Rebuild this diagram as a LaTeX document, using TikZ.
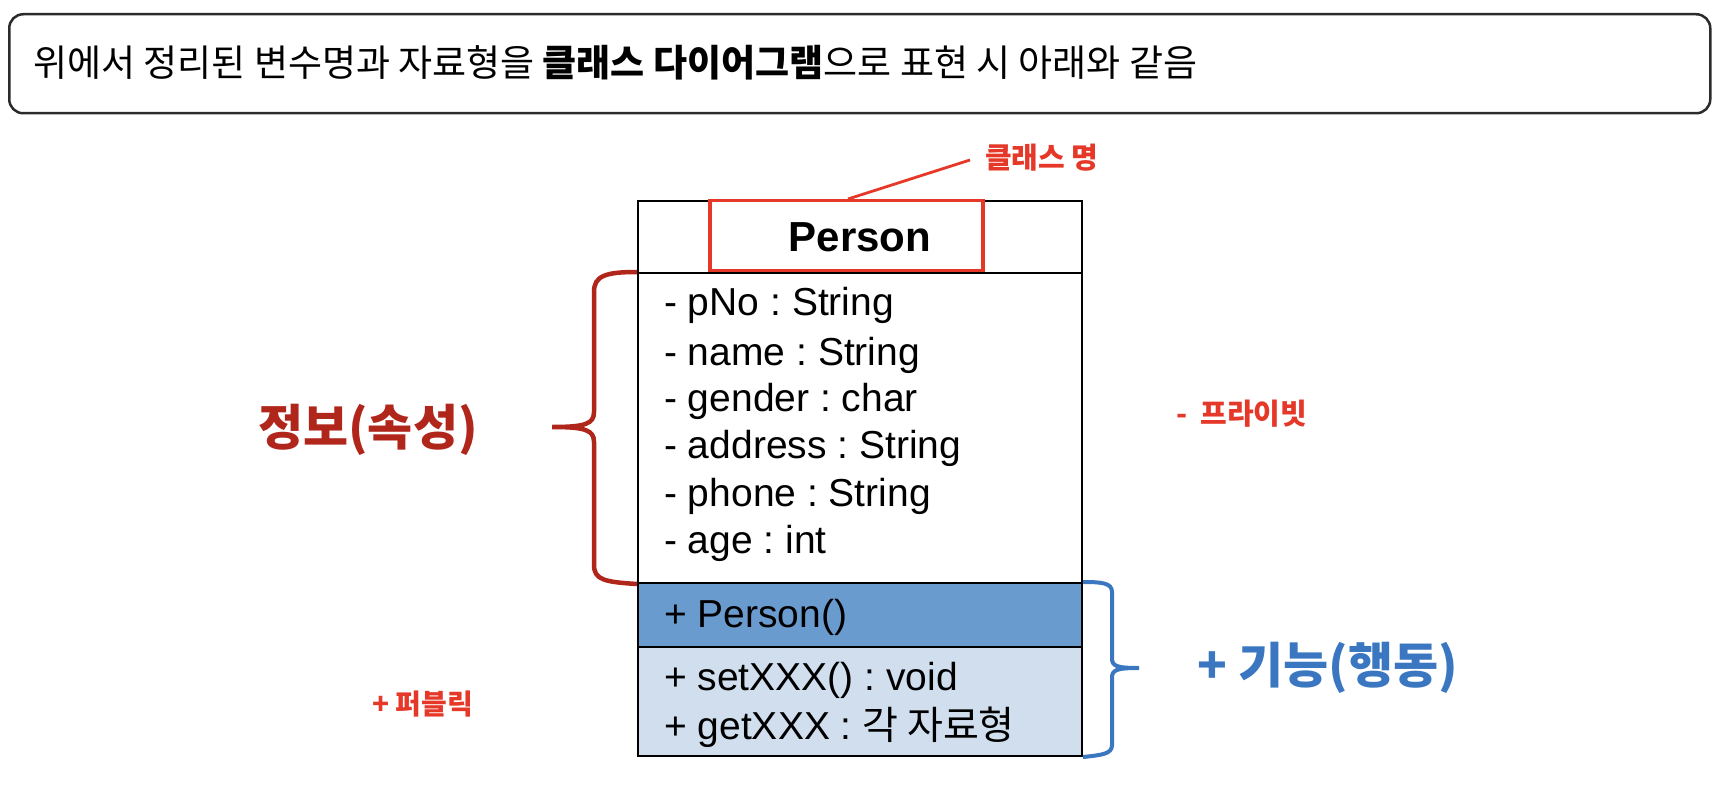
\documentclass[tikz,border=0pt]{standalone}
\usepackage{fontspec}
\setmainfont{Liberation Sans}
\newfontfamily\kr{Noto Sans CJK KR}
\usetikzlibrary{calc}
\frenchspacing
\definecolor{frameC}{HTML}{2B2B2B}
\definecolor{ctorC}{HTML}{6A9BCF}
\definecolor{methC}{HTML}{D0DEEE}
\definecolor{redC}{HTML}{E53828}
\definecolor{darkredC}{HTML}{B0261B}
\definecolor{blueC}{HTML}{3A77C0}
\newcommand\setfs[1]{\fontsize{#1pt}{#1pt}\selectfont}
\begin{document}
\begin{tikzpicture}[x=1pt,y=-1pt,
  comp/.style={draw=black,line width=2pt,inner sep=0pt,anchor=north west,minimum width=444pt},
  member/.style={anchor=base west,inner sep=0pt,font=\frenchspacing\setfs{39}},
  lbl/.style={inner sep=0pt,anchor=west}]
\useasboundingbox (0,0) rectangle (1726,786);
% top box
\node[draw=frameC,line width=2.5pt,rounded corners=14pt,anchor=north west,minimum width=1701pt,minimum height=99pt,inner sep=0pt] (top) at (8,13) {};
\node[lbl,font=\kr\setfs{37}] (toptext) at (33,63) {위에서 정리된 변수명과 자료형을 {\bfseries 클래스 다이어그램}으로 표현 시 아래와 같음};
% class compartments
\node[comp,minimum height=72pt] (hdr) at (637,200) {};
\node[comp,minimum height=310pt] (attr) at (637,272) {};
\node[comp,minimum height=64pt,fill=ctorC] (ctor) at (637,582) {};
\node[comp,minimum height=109pt,fill=methC] (meth) at (637,646) {};
% class name highlight
\node[draw=redC,line width=3.5pt,anchor=north west,minimum width=273pt,minimum height=70pt,inner sep=0pt] (hl) at (708,199) {};
\node[anchor=base,inner sep=0pt,font=\bfseries\setfs{42}] (cname) at (860,252) {Person};
% attributes
\node[member] (a1) at (664,316) {- pNo : String};
\node[member] (a2) at (664,365) {- name : String};
\node[member] (a3) at (664,411) {- gender : char};
\node[member] (a4) at (664,458) {- address : String};
\node[member] (a5) at (664,506) {- phone : String};
\node[member] (a6) at (664,553) {- age : int};
% methods
\node[member] (m1) at (664,627) {+ Person()};
\node[member] (m2) at (664,690) {+ setXXX() : void};
\node[member] (m3) at (664,739) {+ getXXX : {\kr 각 자료형}};
% class name label
\node[lbl,font=\kr\bfseries\setfs{29},text=redC] (cnl) at (985,158) {클래스 명};
\coordinate (hlpt) at (848,199);
\draw[redC,line width=2.8pt] (hlpt) -- ([xshift=-15pt,yshift=-2pt]cnl.west);
% left brace
\draw[darkredC,line width=4.5pt]
  (attr.north west) .. controls (605,272) and (594,276) .. (594,292)
  -- (594,412) .. controls (594,424) and (585,427) .. (552,427)
  .. controls (585,427) and (594,430) .. (594,442)
  -- (594,565) .. controls (594,580) and (605,582) .. (attr.south west);
\node[lbl,font=\kr\bfseries\setfs{49},text=darkredC] (info) at (258,430) {정보(속성)};
% right brace
\draw[blueC,line width=4pt]
  (ctor.north east) .. controls (1102,582) and (1112,583) .. (1112,592)
  -- (1112,658) .. controls (1112,666) and (1116,668) .. (1139,668)
  .. controls (1116,668) and (1112,670) .. (1112,678)
  -- (1112,745) .. controls (1112,754) and (1102,755) .. (meth.south east);
\node[lbl,font=\kr\bfseries\setfs{49},text=blueC] (func) at (1197,668) {+ 기능(행동)};
% access labels
\node[lbl,font=\kr\bfseries\setfs{29},text=redC] (priv) at (1176,414) {-~~프라이빗};
\node[lbl,font=\kr\bfseries\setfs{28},text=redC] (pub) at (372,704) {+ 퍼블릭};
\end{tikzpicture}
\end{document}
